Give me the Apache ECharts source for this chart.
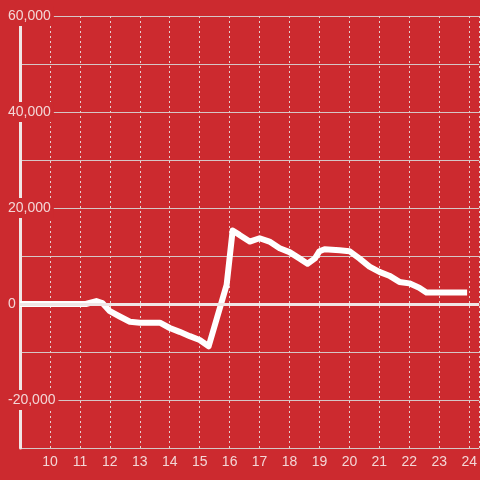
<!DOCTYPE html>
<html>
<head>
<meta charset="utf-8">
<script src="https://cdn.jsdelivr.net/npm/echarts@6/dist/echarts.min.js"></script>
<style>
  html, body { margin: 0; padding: 0; background: #cc2a2f; }
  #chart { width: 480px; height: 480px; }
</style>
</head>
<body>
<div id="chart"></div>
<script>
  // hour of day, value
  var hours = [9, 11.2, 11.55, 11.75, 12, 12.33, 12.67, 13, 13.67, 14, 14.33, 14.67, 15, 15.3, 15.9, 16.1,
    16.33, 16.67, 17, 17.33, 17.67, 18, 18.33, 18.6, 18.85, 19, 19.17, 19.67, 20, 20.33, 20.67, 21,
    21.33, 21.67, 22, 22.33, 22.57, 23.93];
  var values = [0, 0, 600, 200, -1500, -2600, -3700, -3900, -3900, -5000, -5800, -6700, -7500, -8800, 4000, 15300,
    14400, 13000, 13700, 13000, 11600, 10800, 9500, 8400, 9500, 11000, 11400, 11200, 11000, 9500, 7800, 6700,
    5900, 4600, 4300, 3400, 2400, 2400];
  var yLabels = [-20000, 0, 20000, 40000, 60000];

  var points = [];
  for (var i = 0; i < hours.length; i++) {
    points.push([hours[i], values[i]]);
  }

  var myChart = echarts.init(document.getElementById('chart'));
  myChart.setOption({
    backgroundColor: '#cc2a2f',
    animation: false,
    grid: { left: 20, right: 0, top: 16, bottom: 32 },
    xAxis: {
      type: 'value',
      min: 9,
      max: 9 + 460 / 30,
      interval: 1,
      axisLine: { show: false, onZero: false },
      axisTick: { show: false },
      axisLabel: {
        margin: 7,
        color: '#f3d6d6',
        fontSize: 14,
        fontFamily: 'Liberation Sans',
        showMaxLabel: false,
        formatter: function (v) {
          if (v >= 10 && Math.abs(v - Math.round(v)) < 1e-6) return String(v);
          return '';
        }
      },
      splitLine: {
        show: true,
        lineStyle: { color: '#e6d0d0', width: 1, type: [2, 3] }
      }
    },
    yAxis: {
      type: 'value',
      min: -30000,
      max: 60000,
      interval: 10000,
      axisLine: { show: true, lineStyle: { color: '#f0e6e6', width: 3 } },
      axisTick: { show: false },
      axisLabel: {
        margin: 13,
        align: 'left',
        color: '#f3d6d6',
        fontSize: 14,
        fontFamily: 'Liberation Sans',
        backgroundColor: '#cc2a2f',
        padding: [3, 3, 3, 1],
        formatter: function (v) {
          if (yLabels.indexOf(v) < 0) return '';
          return v.toLocaleString('en-US');
        }
      },
      splitLine: {
        show: true,
        lineStyle: { color: '#d6c6c6', width: 1 }
      }
    },
    series: [
      {
        type: 'line',
        data: points,
        showSymbol: false,
        lineStyle: { color: '#ffffff', width: 6, join: 'round' },
        markLine: {
          silent: true,
          symbol: 'none',
          label: { show: false },
          lineStyle: { color: '#f0e6e6', width: 3, type: 'solid' },
          data: [{ yAxis: 0 }]
        }
      }
    ]
  });
</script>
</body>
</html>
